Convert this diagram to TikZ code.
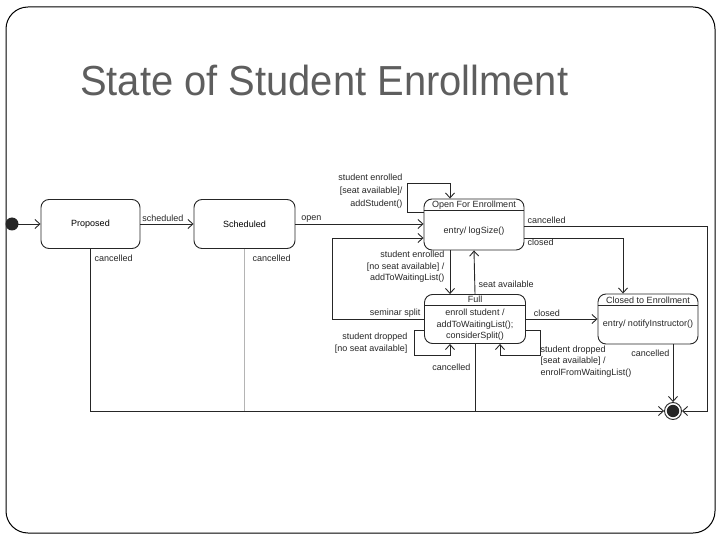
\documentclass[tikz,border=0pt]{standalone}
\usepackage{fontspec}
\setmainfont{Liberation Sans}
\newfontfamily\titlefont[FakeStretch=0.95]{Liberation Sans}
\usetikzlibrary{arrows.meta,positioning,calc}
\definecolor{ink}{HTML}{262626}
\definecolor{titlegray}{HTML}{5E5E5E}
\definecolor{fadegray}{HTML}{B4B4B4}
\tikzset{state/.style={draw=ink,line width=0.9pt,rounded corners=8pt,align=center,font=\fontsize{9}{11}\selectfont,inner sep=0pt}, lbl/.style={font=\fontsize{9}{11.5}\selectfont,text=ink,inner sep=1.5pt,align=left}, trans/.style={-{Straight Barb[length=5pt,width=9pt]},line width=0.9pt,draw=ink}, wire/.style={line width=0.9pt,draw=ink}, divider/.style={line width=0.9pt,draw=ink}}
\begin{document}
\begin{tikzpicture}[x=1pt,y=-1pt]
\useasboundingbox (0,0) rectangle (720,540);
\draw[line width=1pt,rounded corners=22pt] (6,7) rectangle (715,533);
\node[anchor=base west,font=\titlefont\fontsize{42}{48}\selectfont,text=titlegray,inner sep=0pt] (title) at (80,96) {State of Student Enrollment};
% states
\fill[ink] (12,224) circle (6.5) coordinate (init);
\node[state,minimum width=99pt,minimum height=49pt] (proposed) at (90.5,224) {Proposed};
\node[state,minimum width=101pt,minimum height=49pt] (scheduled) at (244.5,224) {Scheduled};
\node[state,minimum width=100pt,minimum height=51pt] (open) at (474,224.5) {};
\node[state,minimum width=101pt,minimum height=49pt] (full) at (475,319) {};
\node[state,minimum width=100pt,minimum height=50pt] (closed) at (648,319) {};
\node[circle,draw=ink,line width=0.9pt,fill=white,minimum size=17pt,inner sep=0pt] (final) at (673,411) {};
\fill[ink] (final.center) circle (6.2);
% compartments
\draw[divider] ($(open.north west)+(0,12)$) -- ($(open.north east)+(0,12)$);
\draw[divider] ($(full.north west)+(0,11)$) -- ($(full.north east)+(0,11)$);
\draw[divider] ($(closed.north west)+(0,12)$) -- ($(closed.north east)+(0,12)$);
\node[lbl] at ($(open.north)+(0,6.5)$) {Open For Enrollment};
\node[lbl] at ($(open.center)+(0,6.5)$) {entry/ logSize()};
\node[lbl] at ($(full.north)+(0,5.5)$) {Full};
\node[lbl,align=center] at ($(full.center)+(0,6)$) {enroll student /\\addToWaitingList();\\considerSplit()};
\node[lbl] at ($(closed.north)+(0,6.5)$) {Closed to Enrollment};
\node[lbl] at ($(closed.center)+(0,5)$) {entry/ notifyInstructor()};
% transitions
\draw[trans] (init) -- (proposed);
\draw[trans] (proposed) -- node[lbl,anchor=south west,pos=0] {scheduled} (scheduled);
\draw[trans] (scheduled.east) -- node[lbl,anchor=south west,pos=0,xshift=4pt] {open} (open.west |- scheduled.east);
\draw[trans] (open.west |- 0,212) -| (407,183) -| ([xshift=-24pt]open.north);
\node[lbl,align=right,anchor=east,font=\fontsize{9}{13}\selectfont] at (404,191) {student enrolled\\\relax[seat available]/\\addStudent()};
\draw[trans] (full.west) -| (332,238) -- (open.west |- 0,238);
\node[lbl,anchor=south east] at ([xshift=-2pt]full.west) {seminar split};
\draw[trans] ([xshift=-24pt]open.south) -- ([xshift=-25pt]full.north);
\node[lbl,align=right,anchor=east] at (446,267) {student enrolled\\\relax[no seat available] /\\addToWaitingList()};
\draw[trans] (full.north) -- (open.south);
\node[lbl,anchor=west] at (477,284) {seat available};
\draw[trans] (full.west |- 0,330) -| (414,355) -| ([xshift=-25pt]full.south);
\node[lbl,align=right,anchor=east] at (409,343) {student dropped\\\relax[no seat available]};
\draw[trans] (full.east |- 0,330) -| (540,355) -| ([xshift=25pt]full.south);
\node[lbl,anchor=north west] at (539,344) {student dropped\\\relax[seat available] /\\enrolFromWaitingList()};
\draw[wire] (full.south) -- (full.south |- final);
\node[lbl,anchor=east] at (472,367) {cancelled};
\draw[trans] (full.east) -- node[lbl,anchor=south west,pos=0,xshift=6pt] {closed} (closed.west);
\draw[trans] (open.east |- 0,238) -| ([xshift=-25pt]closed.north);
\node[lbl,anchor=north west] at (526,237) {closed};
\draw[trans] (open.east |- 0,226) -| (707,411) -- (final.east);
\node[lbl,anchor=south west] at (526,225) {cancelled};
\draw[trans] ([xshift=25pt]closed.south) -- (final.north);
\node[lbl,anchor=east] at (671,353) {cancelled};
\draw[trans] (proposed.south) |- (final.west);
\node[lbl,anchor=north west] at (93,253) {cancelled};
\draw[line width=0.9pt,draw=fadegray] (scheduled.south) -- (scheduled.south |- final);
\node[lbl,anchor=north west] at (251,253) {cancelled};
\end{tikzpicture}
\end{document}
